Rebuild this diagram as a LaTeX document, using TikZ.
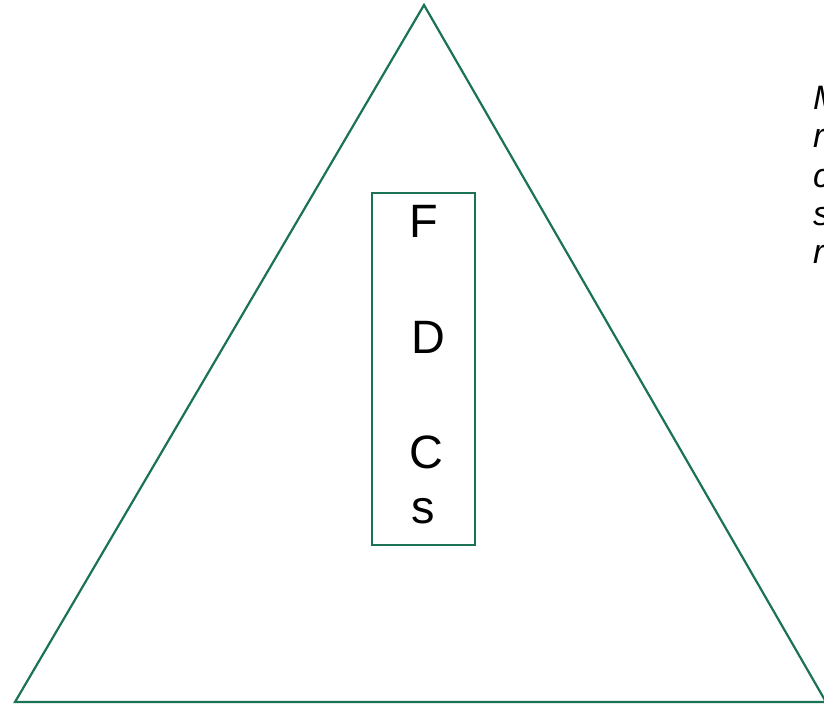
\documentclass[tikz,border=0pt]{standalone}
\usepackage{fontspec}
\setmainfont{Liberation Sans}
\definecolor{tgreen}{HTML}{1A7355}
\begin{document}
\begin{tikzpicture}[x=1bp,y=-1bp,
  shapeline/.style={draw=tgreen,line width=2.2bp},
  boxletter/.style={font=\fontsize{47}{47}\selectfont,anchor=base,inner sep=0},
  sidetext/.style={font=\fontsize{34}{34}\itshape,anchor=base west,inner sep=0}]
\useasboundingbox (0,0) rectangle (824,705);
\coordinate (apex) at (424,5);
\coordinate (bl) at (15,702);
\coordinate (br) at (826,702);
\draw[shapeline,line join=miter] (apex) -- (bl) -- (br) -- cycle;
\node[shapeline,minimum width=103bp,minimum height=352bp,inner sep=0] (box) at (423.5,369) {};
\node[boxletter] (f) at (424,237) {F};
\node[boxletter] (d) at (428,353) {D};
\node[boxletter] (c) at (426,468) {C};
\node[boxletter] (s) at (423,523) {s};
\node[sidetext] (t1) at (813,110) {M};
\node[sidetext] (t2) at (813,148) {r};
\node[sidetext] (t3) at (813,187) {c};
\node[sidetext] (t4) at (813,225) {s};
\node[sidetext] (t5) at (813,263) {r};
\end{tikzpicture}
\end{document}
